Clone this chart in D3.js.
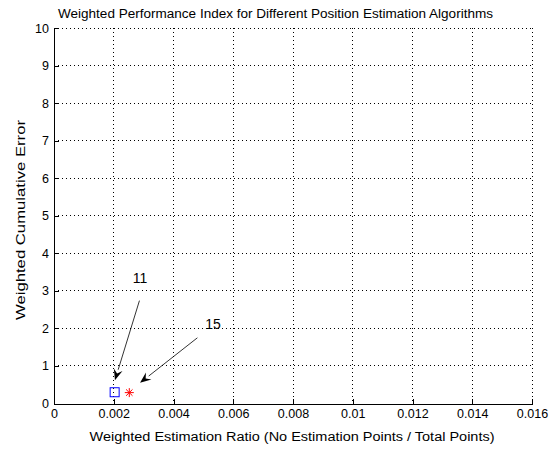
<!DOCTYPE html>
<html lang='en'>
<head>
  <meta charset='utf-8'>
  <script src="https://d3js.org/d3.v7.min.js"></script>
  <title>Weighted Performance Index</title>
  <style>
    body { margin: 0; background: #fff; }
    text { font-family: "Liberation Sans", Arial, sans-serif; fill: #000; }
  </style>
</head>
<body>
  <div id="chart"></div>
  <script>
    // data
    const xTicks = [0, 0.002, 0.004, 0.006, 0.008, 0.01, 0.012, 0.014, 0.016];
    const yTicks = [0, 1, 2, 3, 4, 5, 6, 7, 8, 9, 10];
    const squarePts = [{x: 0.00203, y: 0.30}];
    const starPts = [{x: 0.00252, y: 0.29}];
    // arrows: label, text position, tail, head (data units)
    const arrowNotes = [
      {label: "11", tx: 0.00288, ty: 3.32, x1: 0.00286, y1: 2.74, x2: 0.00204, y2: 0.62},
      {label: "15", tx: 0.00532, ty: 2.09, x1: 0.00480, y1: 1.75, x2: 0.00288, y2: 0.55}
    ];

    const W = 550, H = 451;
    const margin = {top: 28, right: 18, bottom: 47.5, left: 54};
    const width = W - margin.left - margin.right,
          height = H - margin.top - margin.bottom;

    const svg = d3.select("#chart").append("svg")
      .attr("width", W).attr("height", H);

    const g = svg.append("g")
      .attr("transform", `translate(${margin.left},${margin.top})`);

    const x = d3.scaleLinear().domain([0, 0.016]).range([0, width]);
    const y = d3.scaleLinear().domain([0, 10]).range([height, 0]);

    // dotted grid
    g.append("g").selectAll("line").data(xTicks.slice(1)).join("line")
      .attr("x1", d => x(d)).attr("x2", d => x(d))
      .attr("y1", 0).attr("y2", height)
      .attr("stroke", "#000").attr("stroke-width", 1)
      .attr("stroke-dasharray", "1,3").attr("shape-rendering", "crispEdges");
    g.append("g").selectAll("line").data(yTicks.slice(1)).join("line")
      .attr("y1", d => y(d)).attr("y2", d => y(d))
      .attr("x1", 0).attr("x2", width)
      .attr("stroke", "#000").attr("stroke-width", 1)
      .attr("stroke-dasharray", "1,3").attr("shape-rendering", "crispEdges");

    // axes, ticks inside
    const fmt = d => d === 0 ? "0" : String(+d.toFixed(3));
    const xa = g.append("g").attr("transform", `translate(0,${height})`)
      .call(d3.axisBottom(x).tickValues(xTicks).tickFormat(fmt).tickSizeInner(-5).tickSizeOuter(0).tickPadding(6));
    const ya = g.append("g")
      .call(d3.axisLeft(y).tickValues(yTicks).tickFormat(d3.format("d")).tickSizeInner(-5).tickSizeOuter(0).tickPadding(5));
    [xa, ya].forEach(a => {
      a.select(".domain").attr("stroke", "#000").attr("shape-rendering", "crispEdges");
      a.selectAll(".tick line").attr("stroke", "#000").attr("shape-rendering", "crispEdges");
      a.selectAll("text").style("font-size", "12.5px").attr("fill", "#000")
        .style("font-family", '"Liberation Sans", Arial, sans-serif');
    });

    // markers
    g.selectAll(".sq").data(squarePts).join("rect")
      .attr("x", d => x(d.x) - 4.5).attr("y", d => y(d.y) - 4.5)
      .attr("width", 9).attr("height", 9)
      .attr("fill", "none").attr("stroke", "#0000ff").attr("stroke-width", 1);
    g.selectAll(".st").data(starPts).join("path")
      .attr("transform", d => `translate(${x(d.x)},${y(d.y)})`)
      .attr("d", "M-4.5,0H4.5M0,-4.5V4.5M-3.2,-3.2L3.2,3.2M-3.2,3.2L3.2,-3.2")
      .attr("stroke", "#ff0000").attr("stroke-width", 1).attr("fill", "none");

    // arrows
    const notes = g.append("g");
    arrowNotes.forEach(a => {
      const px1 = x(a.x1), py1 = y(a.y1), px2 = x(a.x2), py2 = y(a.y2);
      const ang = Math.atan2(py2 - py1, px2 - px1);
      const len = 11, half = 4.5;
      const bx = px2 - len * Math.cos(ang), by = py2 - len * Math.sin(ang);
      notes.append("line")
        .attr("x1", px1).attr("y1", py1).attr("x2", bx).attr("y2", by)
        .attr("stroke", "#000").attr("stroke-width", 0.8);
      const nx = -Math.sin(ang), ny = Math.cos(ang);
      const ix = px2 - 0.65 * len * Math.cos(ang), iy = py2 - 0.65 * len * Math.sin(ang);
      notes.append("path")
        .attr("d", `M${px2},${py2}L${bx + half * nx},${by + half * ny}L${ix},${iy}L${bx - half * nx},${by - half * ny}Z`)
        .attr("fill", "#000");
      notes.append("text")
        .attr("x", x(a.tx)).attr("y", y(a.ty))
        .attr("text-anchor", "middle").attr("dominant-baseline", "middle")
        .style("font-size", "14px").text(a.label);
    });

    // labels
    svg.append("text").attr("x", 275.5).attr("y", 18)
      .attr("text-anchor", "middle").style("font-size", "12.5px")
      .attr("textLength", 435).attr("lengthAdjust", "spacingAndGlyphs")
      .text("Weighted Performance Index for Different Position Estimation Algorithms");
    svg.append("text").attr("x", 292).attr("y", 441)
      .attr("text-anchor", "middle").style("font-size", "12.5px")
      .attr("textLength", 405).attr("lengthAdjust", "spacingAndGlyphs")
      .text("Weighted Estimation Ratio (No Estimation Points / Total Points)");
    svg.append("text")
      .attr("transform", `translate(25,220) rotate(-90)`)
      .attr("text-anchor", "middle").style("font-size", "12.5px")
      .attr("textLength", 200).attr("lengthAdjust", "spacingAndGlyphs")
      .text("Weighted Cumulative Error");
  </script>
</body>
</html>
